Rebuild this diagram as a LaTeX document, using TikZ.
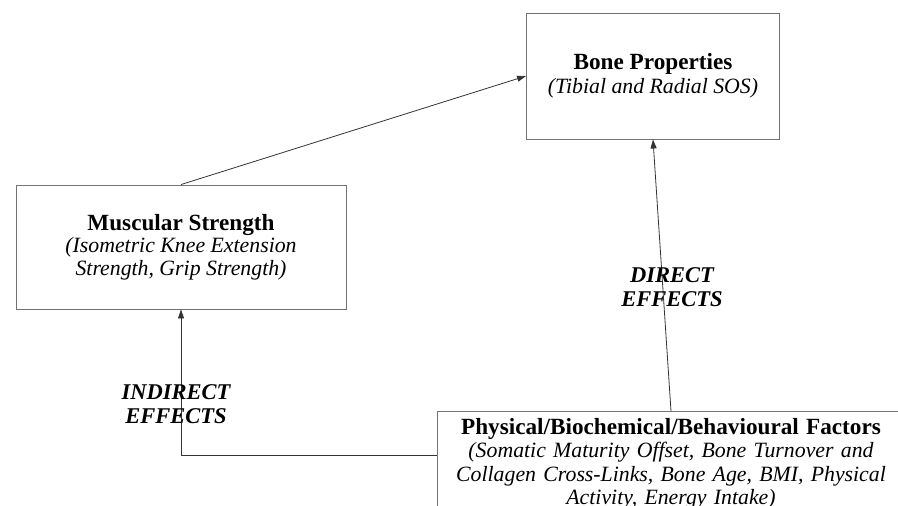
\documentclass[tikz,border=0pt]{standalone}
\usepackage{fontspec}
\setmainfont{Liberation Serif}
\usetikzlibrary{arrows.meta}
\newcommand{\bt}[1]{{\fontsize{23.2}{24}\selectfont\bfseries #1}}
\newcommand{\itx}[1]{{\fontsize{21.8}{24}\selectfont\itshape #1}}
\begin{document}
\begin{tikzpicture}[x=1pt,y=-1pt,
  boxstyle/.style={draw=black!55, line width=0.9pt, align=center, font=\fontsize{21.8}{24}\selectfont, inner sep=0pt},
  conn/.style={draw=black!80, line width=0.8pt, -{Triangle[length=9pt,width=6pt]}},
  lbl/.style={font=\fontsize{22.5}{23.5}\selectfont\bfseries\itshape, align=center, inner sep=0pt}]
\useasboundingbox (0,0) rectangle (898,506);
\clip (0,0) rectangle (898,506);
\node[boxstyle, minimum width=253pt, minimum height=126pt] (bone) at (653,76)
  {\bt{Bone Properties}\\\itx{(Tibial and Radial SOS)}};
\node[boxstyle, minimum width=330pt, minimum height=124pt, font=\fontsize{21.8}{22.5}\selectfont] (mus) at (181,247)
  {\bt{Muscular Strength}\\\itx{(Isometric Knee Extension}\\\itx{Strength, Grip Strength)}};
\node[boxstyle, anchor=north, minimum width=468pt, text width=466pt, inner ysep=6.5pt, font=\fontsize{21.8}{23.5}\selectfont] (phys) at (671,411)
  {\bt{Physical/Biochemical/Behavioural Factors}\\\itx{(Somatic Maturity Offset, Bone Turnover and}\\\itx{Collagen Cross-Links, Bone Age, BMI, Physical}\\\itx{Activity, Energy Intake)}\\[30pt]};
\draw[conn] (mus.north) -- (bone.west);
\draw[conn] (phys.north) -- (bone.south);
\draw[conn] ([yshift=-44pt]phys.north west) -| (mus.south);
\node[lbl] (ind) at (176,404) {INDIRECT\\EFFECTS};
\node[lbl] (dir) at (672,287) {DIRECT\\EFFECTS};
\end{tikzpicture}
\end{document}
